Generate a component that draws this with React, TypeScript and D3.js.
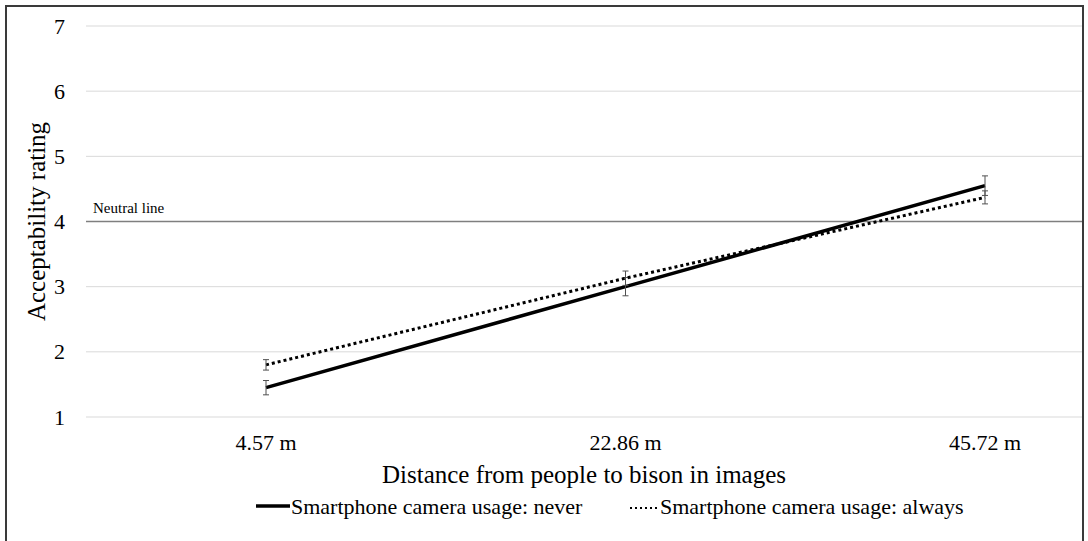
import React, { useEffect, useRef } from 'react';
import * as d3 from 'd3';

// distances shown in the images
const distanceLabels = ['4.57 m', '22.86 m', '45.72 m'];

// mean acceptability ratings
const neverMeans = [1.45, 3.0, 4.55];
const alwaysMeans = [1.8, 3.13, 4.37];
// error bar half-widths
const neverErr = [0.11, 0.14, 0.15];
const alwaysErr = [0.08, 0.11, 0.1];

const yTicks = [1, 2, 3, 4, 5, 6, 7];
const neutralValue = 4;

const W = 1088;
const H = 541;
const FONT = "'Liberation Serif', 'DejaVu Serif', 'Times New Roman', serif";

const App = () => {
  const ref = useRef<SVGSVGElement>(null);

  useEffect(() => {
    const svg = d3.select(ref.current);
    svg.selectAll('*').remove();

    svg.append('rect')
      .attr('x', 6).attr('y', 6)
      .attr('width', 1077).attr('height', H + 20)
      .attr('fill', '#fff')
      .attr('stroke', '#3a3a3a')
      .attr('stroke-width', 2);

    const plotLeft = 86;
    const plotRight = 1082;

    const x = d3.scalePoint<string>().domain(distanceLabels).range([266, 985]);
    const y = d3.scaleLinear().domain([1, 7]).range([417, 26]);

    // gridlines
    svg.append('g')
      .selectAll('line')
      .data(yTicks)
      .enter()
      .append('line')
      .attr('x1', plotLeft).attr('x2', plotRight)
      .attr('y1', d => y(d)).attr('y2', d => y(d))
      .attr('stroke', '#d9d9d9')
      .attr('stroke-width', 1);

    // y tick labels
    svg.append('g')
      .selectAll('text')
      .data(yTicks)
      .enter()
      .append('text')
      .attr('x', 65)
      .attr('y', d => y(d) + 7.5)
      .attr('text-anchor', 'end')
      .attr('font-family', FONT)
      .attr('font-size', 22)
      .attr('fill', '#000')
      .text(d => d);

    // neutral line
    svg.append('line')
      .attr('x1', plotLeft).attr('x2', plotRight)
      .attr('y1', y(neutralValue)).attr('y2', y(neutralValue))
      .attr('stroke', '#7f7f7f')
      .attr('stroke-width', 1.5);

    svg.append('text')
      .attr('x', 93)
      .attr('y', 213)
      .attr('font-family', FONT)
      .attr('font-size', 15)
      .attr('fill', '#000')
      .text('Neutral line');

    // x tick labels
    svg.append('g')
      .selectAll('text')
      .data(distanceLabels)
      .enter()
      .append('text')
      .attr('x', d => x(d) as number)
      .attr('y', 450)
      .attr('text-anchor', 'middle')
      .attr('font-family', FONT)
      .attr('font-size', 22)
      .attr('fill', '#000')
      .text(d => d);

    // axis titles
    svg.append('text')
      .attr('x', (plotLeft + plotRight) / 2)
      .attr('y', 483)
      .attr('text-anchor', 'middle')
      .attr('font-family', FONT)
      .attr('font-size', 25)
      .attr('fill', '#000')
      .text('Distance from people to bison in images');

    svg.append('text')
      .attr('transform', `translate(45,${y(4)}) rotate(-90)`)
      .attr('text-anchor', 'middle')
      .attr('font-family', FONT)
      .attr('font-size', 25)
      .attr('fill', '#000')
      .text('Acceptability rating');

    const series = [
      { means: neverMeans, err: neverErr, dash: null },
      { means: alwaysMeans, err: alwaysErr, dash: '3 3' },
    ];

    const line = d3.line<number>()
      .x((d, i) => x(distanceLabels[i]) as number)
      .y(d => y(d));

    series.forEach(s => {
      svg.append('path')
        .datum(s.means)
        .attr('fill', 'none')
        .attr('stroke', '#000')
        .attr('stroke-width', s.dash ? 3 : 3.5)
        .attr('stroke-dasharray', s.dash)
        .attr('d', line);

      const eb = svg.append('g')
        .attr('stroke', '#505050')
        .attr('stroke-width', 1);
      s.means.forEach((m, i) => {
        const cx = x(distanceLabels[i]) as number;
        const top = y(m + s.err[i]);
        const bot = y(m - s.err[i]);
        eb.append('line').attr('x1', cx).attr('x2', cx).attr('y1', top).attr('y2', bot);
        eb.append('line').attr('x1', cx - 3).attr('x2', cx + 3).attr('y1', top).attr('y2', top);
        eb.append('line').attr('x1', cx - 3).attr('x2', cx + 3).attr('y1', bot).attr('y2', bot);
      });
    });

    // legend
    const legend = svg.append('g');
    legend.append('line')
      .attr('x1', 256).attr('x2', 290)
      .attr('y1', 506).attr('y2', 506)
      .attr('stroke', '#000').attr('stroke-width', 3.5);
    legend.append('text')
      .attr('x', 291).attr('y', 514)
      .attr('font-family', FONT)
      .attr('font-size', 22)
      .text('Smartphone camera usage: never');
    legend.append('line')
      .attr('x1', 630).attr('x2', 658)
      .attr('y1', 508).attr('y2', 508)
      .attr('stroke', '#000').attr('stroke-width', 2)
      .attr('stroke-dasharray', '2 3');
    legend.append('text')
      .attr('x', 660).attr('y', 514)
      .attr('font-family', FONT)
      .attr('font-size', 22)
      .text('Smartphone camera usage: always');
  }, []);

  return (
    <svg
      ref={ref}
      width={W}
      height={H}
      style={{ position: 'absolute', left: 0, top: 0, background: '#fff' }}
    />
  );
};

export default App;
